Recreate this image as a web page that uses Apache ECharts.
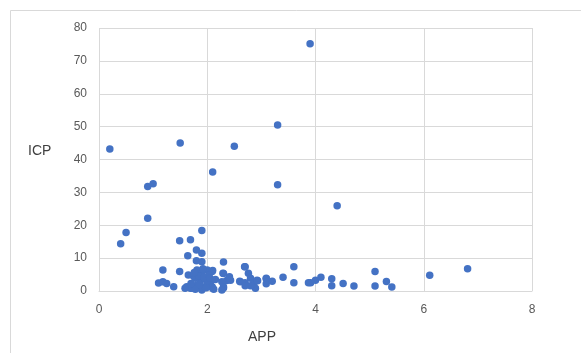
<!DOCTYPE html>
<html>
<head>
<meta charset="utf-8">
<script src="https://cdn.jsdelivr.net/npm/echarts@6/dist/echarts.min.js"></script>
<style>
  html, body { margin: 0; padding: 0; background: #fff; }
  #chart { width: 581px; height: 353px; }
</style>
</head>
<body>
<div id="chart"></div>
<script>
// values (APP, ICP)
const appValues = [
  0.2, 1.5, 2.5, 3.9, 3.3, 2.1, 3.3, 4.4, 0.9, 1.0,
  0.9, 0.5, 0.4, 1.49, 1.69, 1.9, 1.8, 1.9, 1.64, 1.8,
  1.9, 2.3, 1.18, 1.49, 2.69, 3.6, 2.3, 2.0, 2.1, 1.1,
  1.18, 1.25, 1.38, 1.59, 1.69, 2.1, 2.3, 2.36, 2.41, 2.61,
  2.7, 2.76, 2.8, 2.86, 2.89, 2.92, 3.09, 3.09, 3.2, 3.4,
  3.6, 3.87, 3.91, 4.0, 4.1, 4.3, 4.3, 4.51, 4.71, 5.1,
  5.1, 5.31, 5.41, 6.11, 6.81, 1.65, 1.75, 1.81, 1.9, 2.09,
  2.29, 1.62, 1.72, 1.78, 1.87, 1.96, 2.06, 1.81, 1.9, 2.0,
  2.09, 2.12, 1.9, 1.78, 2.27, 2.3, 2.27, 2.43, 2.7, 2.6,
  2.8, 2.7, 2.93, 3.09, 1.84, 1.94, 2.03, 1.7, 1.86, 1.98,
  2.05, 1.76, 1.92, 2.15
];
const icpValues = [
  43.2, 45.0, 44.0, 75.2, 50.5, 36.2, 32.3, 25.9, 31.8, 32.6,
  22.1, 17.8, 14.4, 15.3, 15.6, 18.4, 12.5, 11.5, 10.7, 9.2,
  8.9, 8.8, 6.4, 5.9, 7.4, 7.4, 5.3, 6.4, 6.2, 2.4,
  2.8, 2.3, 1.3, 0.8, 0.8, 0.8, 0.9, 3.2, 4.3, 2.8,
  2.5, 5.4, 3.9, 2.3, 0.8, 3.3, 3.7, 2.2, 3.0, 4.2,
  2.5, 2.5, 2.5, 3.3, 4.2, 3.7, 1.6, 2.3, 1.5, 5.9,
  1.5, 2.9, 1.2, 4.8, 6.8, 4.9, 4.4, 6.4, 5.4, 5.9,
  5.4, 1.3, 0.8, 3.9, 3.3, 3.6, 2.8, 1.8, 1.3, 2.3,
  1.3, 0.5, 0.3, 0.5, 2.8, 1.3, 0.3, 3.3, 7.4, 3.0,
  1.6, 1.6, 3.1, 3.9, 4.6, 4.1, 4.8, 2.3, 2.0, 1.0,
  3.9, 5.6, 6.8, 3.5
];
const xTicks = [0, 2, 4, 6, 8];
const yTicks = [0, 10, 20, 30, 40, 50, 60, 70, 80];

const points = appValues.map((a, i) => [a, icpValues[i]]);

const chart = echarts.init(document.getElementById('chart'), null, { renderer: 'canvas' });

const option = {
  animation: false,
  backgroundColor: '#ffffff',
  textStyle: { fontFamily: 'Liberation Sans, Arial, sans-serif' },
  graphic: [
    {
      type: 'rect',
      z: -10,
      silent: true,
      shape: { x: 10.5, y: 10.5, width: 620, height: 400 },
      style: { fill: 'none', stroke: '#d9d9d9', lineWidth: 1 }
    },
    {
      type: 'text',
      left: 28, top: 144,
      style: { text: 'ICP', fill: '#404040', font: '14px Liberation Sans, Arial, sans-serif' }
    },
    {
      type: 'text',
      left: 248, top: 330,
      style: { text: 'APP', fill: '#404040', font: '14px Liberation Sans, Arial, sans-serif' }
    }
  ],
  grid: { left: 99, right: 49, top: 28, bottom: 62, containLabel: false },
  xAxis: {
    type: 'value',
    min: xTicks[0],
    max: xTicks[xTicks.length - 1],
    interval: xTicks[1] - xTicks[0],
    axisLine: { show: true, lineStyle: { color: '#d9d9d9' } },
    axisTick: { show: false },
    axisLabel: { color: '#595959', fontSize: 12, margin: 13 },
    splitLine: { show: true, lineStyle: { color: '#d9d9d9' } }
  },
  yAxis: {
    type: 'value',
    min: yTicks[0],
    max: yTicks[yTicks.length - 1],
    interval: yTicks[1] - yTicks[0],
    axisLine: { show: false },
    axisTick: { show: false },
    axisLabel: { color: '#595959', fontSize: 12, margin: 12 },
    splitLine: { show: true, lineStyle: { color: '#d9d9d9' } }
  },
  series: [
    {
      name: 'ICP',
      type: 'scatter',
      data: points,
      symbol: 'circle',
      symbolSize: 7.5,
      itemStyle: { color: '#4472c4', opacity: 1 }
    }
  ]
};

chart.setOption(option);

window.onresize = function () {
  chart.resize();
};
</script>
</body>
</html>
